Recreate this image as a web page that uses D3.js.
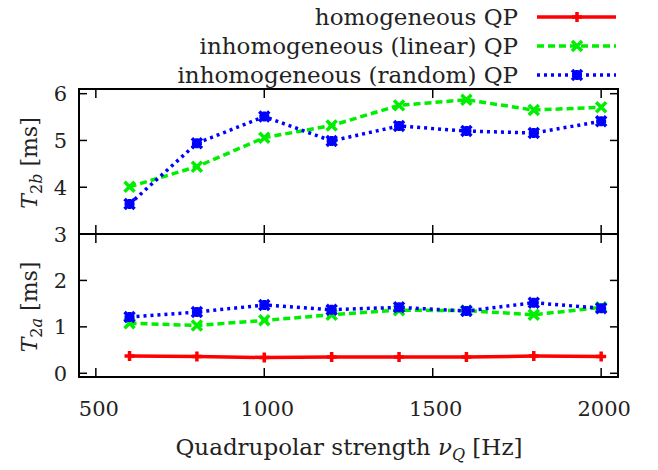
<!DOCTYPE html>
<html><head><meta charset="utf-8">
<script src="https://cdn.jsdelivr.net/npm/d3@7"></script>
<style>body{margin:0;background:#fff}svg{display:block}svg text{font-family:"DejaVu Serif","Liberation Serif",serif;fill:#222}</style>
</head><body><div id="chart"></div>
<script>
const freqs = [600, 800, 1000, 1200, 1400, 1600, 1800, 2000];
const t2bLinear = [4.01, 4.44, 5.06, 5.32, 5.75, 5.87, 5.65, 5.71];
const t2bRandom = [3.64, 4.94, 5.51, 4.99, 5.31, 5.20, 5.16, 5.41];
const t2aHomog  = [0.37, 0.36, 0.34, 0.35, 0.35, 0.35, 0.37, 0.36];
const t2aLinear = [1.08, 1.03, 1.14, 1.26, 1.36, 1.35, 1.26, 1.42];
const t2aRandom = [1.21, 1.32, 1.47, 1.37, 1.42, 1.34, 1.52, 1.40];
const xTicks = [500, 1000, 1500, 2000];
const yTicksTop = [3, 4, 5, 6];
const yTicksBot = [0, 1, 2, 3];
const seriesNames = ["homogeneous QP", "inhomogeneous (linear) QP", "inhomogeneous (random) QP"];

const W = 658, H = 470;
const L = 79, R = 618, T1 = 89, B1 = 234, B2 = 377;
const FS = 21, FL = 23, FSS = 16;
const svg = d3.select("#chart").append("svg").attr("width", W).attr("height", H);

const x = d3.scaleLinear().domain([450, 2050]).range([L, R]);
const yTop = d3.scaleLinear().domain([3, 6.1]).range([B1, T1]);
const yBot = d3.scaleLinear().domain([-0.08, 3]).range([B2, B1]);

const styles = [
  {color: "#ff0000", dash: null, marker: "plus"},
  {color: "#00ee00", dash: "7,4", marker: "x"},
  {color: "#0000ff", dash: "3,4", marker: "star"}
];

function marker(g, type, cx, cy, color) {
  const s = 5;
  let d = "";
  if (type === "plus") d = `M${cx-s},${cy}H${cx+s}M${cx},${cy-s}V${cy+s}`;
  if (type === "x") d = `M${cx-s},${cy-s}L${cx+s},${cy+s}M${cx-s},${cy+s}L${cx+s},${cy-s}`;
  if (type === "star") d = `M${cx-s},${cy-s}L${cx+s},${cy+s}M${cx-s},${cy+s}L${cx+s},${cy-s}M${cx-s},${cy}H${cx+s}M${cx},${cy-s}V${cy+s}`;
  g.append("path").attr("d", d).attr("stroke", color).attr("stroke-width", 3.5).attr("fill", "none");
}

function drawSeries(vals, y, st) {
  const line = d3.line().x((d, i) => x(freqs[i])).y(d => y(d));
  svg.append("path").datum(vals).attr("d", line).attr("fill", "none")
    .attr("stroke", st.color).attr("stroke-width", 3.5)
    .attr("stroke-dasharray", st.dash);
  const g = svg.append("g");
  vals.forEach((v, i) => marker(g, st.marker, x(freqs[i]), y(v), st.color));
}

function panel(y, top, bottom, ticks, labelTicks) {
  const ax = svg.append("g");
  const tl = 9, tly = 8;
  ticks.forEach(t => {
    const yy = y(t);
    ax.append("line").attr("x1", L).attr("x2", L + tly).attr("y1", yy).attr("y2", yy);
    ax.append("line").attr("x1", R).attr("x2", R - tly).attr("y1", yy).attr("y2", yy);
  });
  xTicks.forEach(t => {
    const xx = x(t);
    ax.append("line").attr("x1", xx).attr("x2", xx).attr("y1", bottom).attr("y2", bottom - tl);
    ax.append("line").attr("x1", xx).attr("x2", xx).attr("y1", top).attr("y2", top + tl);
  });
  ax.selectAll("line").attr("stroke", "#000").attr("stroke-width", 1.5);
  labelTicks.forEach(t => {
    svg.append("text").attr("x", L - 12).attr("y", y(t)).attr("dy", "0.36em")
      .attr("text-anchor", "end").attr("font-size", FS).text(t);
  });
}
panel(yTop, T1, B1, yTicksTop, yTicksTop);
panel(yBot, B1, B2, yTicksBot, [0, 1, 2]);

drawSeries(t2bLinear, yTop, styles[1]);
drawSeries(t2bRandom, yTop, styles[2]);
drawSeries(t2aLinear, yBot, styles[1]);
drawSeries(t2aRandom, yBot, styles[2]);
drawSeries(t2aHomog, yBot, styles[0]);

svg.append("rect").attr("x", L).attr("y", T1).attr("width", R - L).attr("height", B1 - T1)
  .attr("fill", "none").attr("stroke", "#000").attr("stroke-width", 2);
svg.append("rect").attr("x", L).attr("y", B1).attr("width", R - L).attr("height", B2 - B1)
  .attr("fill", "none").attr("stroke", "#000").attr("stroke-width", 2);

xTicks.forEach(t => {
  svg.append("text").attr("x", x(t) + 3).attr("y", 416).attr("text-anchor", "middle")
    .attr("font-size", FS).text(t);
});

const xl = svg.append("text").attr("x", 349).attr("y", 455).attr("text-anchor", "middle").attr("font-size", FL);
xl.append("tspan").text("Quadrupolar strength ");
xl.append("tspan").attr("font-style", "italic").text("ν");
xl.append("tspan").attr("font-style", "italic").attr("font-size", FSS).attr("dy", 5).text("Q");
xl.append("tspan").attr("dy", -5).text(" [Hz]");

function ylabel(cy, sub) {
  const t = svg.append("text").attr("transform", `translate(37,${cy}) rotate(-90)`)
    .attr("text-anchor", "middle").attr("font-size", 22);
  t.append("tspan").attr("font-style", "italic").text("T");
  t.append("tspan").attr("font-size", FSS).attr("dy", 5).text("2");
  t.append("tspan").attr("font-size", FSS).attr("font-style", "italic").text(sub);
  t.append("tspan").attr("dy", -5).text(" [ms]");
}
ylabel(163, "b");
ylabel(307, "a");

const legY = [17, 46, 75];
seriesNames.forEach((name, i) => {
  const st = styles[i];
  svg.append("text").attr("x", 518).attr("y", legY[i]).attr("dy", "0.36em")
    .attr("text-anchor", "end").attr("font-size", FL).text(name);
  svg.append("line").attr("x1", 537).attr("x2", 616).attr("y1", legY[i]).attr("y2", legY[i])
    .attr("stroke", st.color).attr("stroke-width", 3.5).attr("stroke-dasharray", st.dash);
  marker(svg.append("g"), st.marker, 577, legY[i], st.color);
});
</script></body></html>
